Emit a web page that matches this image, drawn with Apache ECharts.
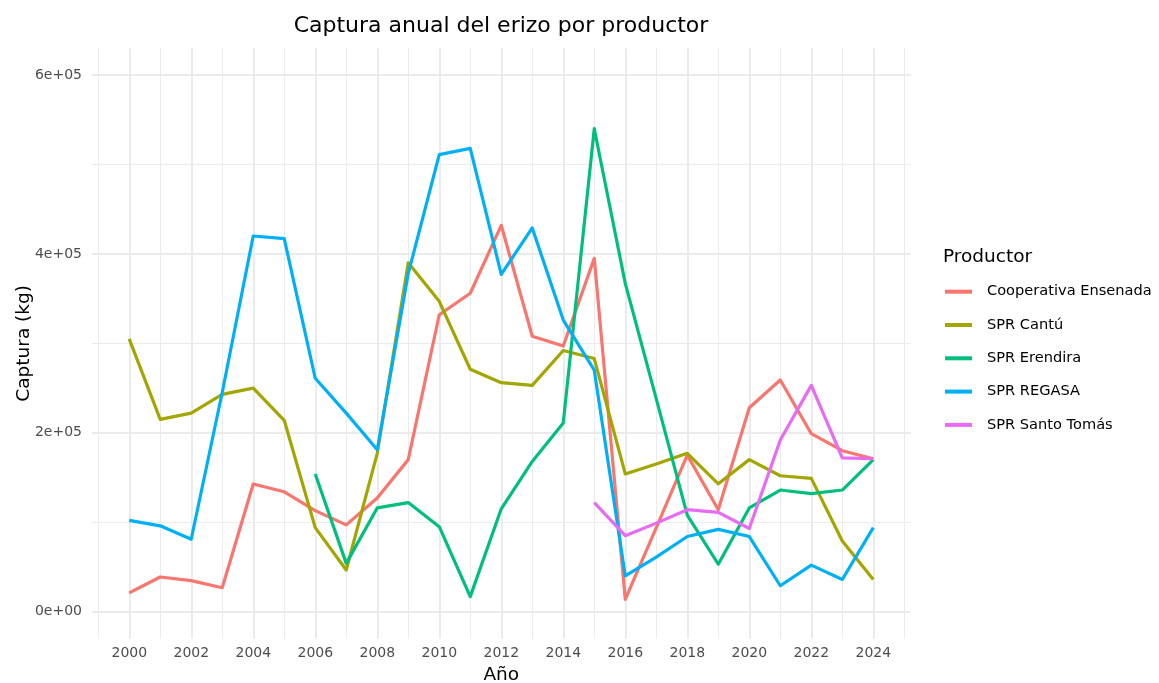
<!DOCTYPE html>
<html>
<head>
<meta charset="utf-8">
<script src="https://cdn.jsdelivr.net/npm/echarts@6.0.0/dist/echarts.min.js"></script>
<style>
html,body{margin:0;padding:0;background:#fff;}
#chart{width:1159px;height:683px;}
</style>
</head>
<body>
<div id="chart"></div>
<script>
// ---- data ----
const years = [2000,2001,2002,2003,2004,2005,2006,2007,2008,2009,2010,2011,2012,2013,2014,2015,2016,2017,2018,2019,2020,2021,2022,2023,2024];
const seriesNames = ['Cooperativa Ensenada','SPR Cantú','SPR Erendira','SPR REGASA','SPR Santo Tomás'];
const cooperativa = [21000,38800,34700,26800,142800,134000,113000,97000,127000,170000,332000,356000,432000,308000,297000,395000,13800,94000,175000,114000,228000,259000,199000,180000,171000];
const cantu = [305000,215000,222000,243000,250000,214000,94000,46600,177000,390000,347000,271000,256000,253000,292000,283000,154000,165000,177000,143000,170000,152000,149000,79000,36000];
const erendira = [null,null,null,null,null,null,154000,54000,116000,122000,95000,16800,115000,168000,211000,540000,367000,238000,108000,53000,116000,136000,132000,136000,170000];
const regasa = [102000,96000,81000,245000,420000,417000,261000,222000,181000,378000,511000,518000,377000,429000,326000,270000,40000,61000,84000,92000,84000,29000,52000,36000,94000];
const santoTomas = [null,null,null,null,null,null,null,null,null,null,null,null,null,null,null,122000,85000,99000,114000,111000,93000,192000,253000,172000,171000];
const xTickLabels = ['2000','2002','2004','2006','2008','2010','2012','2014','2016','2018','2020','2022','2024'];
const yTickLabels = ['0e+00','2e+05','4e+05','6e+05'];
const colors = ['#F8766D','#A3A500','#00BF7D','#00B0F6','#E76BF3'];

const FONT = '"DejaVu Sans", "Liberation Sans", Arial, sans-serif';
const GRID = '#EBEBEB';

function pairs(vals){
  const out = [];
  vals.forEach((v,i)=>{ if(v!==null) out.push([years[i], v]); });
  return out;
}
const allVals = [cooperativa, cantu, erendira, regasa, santoTomas];

const chart = echarts.init(document.getElementById('chart'), null, {renderer:'canvas'});

const hiddenAxis = (gi, extra) => Object.assign({
  gridIndex: gi, type:'value', show:false, min:0, max:1
}, extra||{});

const option = {
  animation: false,
  backgroundColor: '#ffffff',
  textStyle: {fontFamily: FONT},
  grid: [
    // 0: panel with data
    {left: 92, right: 248.5, top: 48.2, bottom: 44.5, outerBoundsMode: 'none', containLabel: false},
    // 1: x minor gridlines (1999..2025)
    {left: 98.3, right: 254.7, top: 48.2, bottom: 44.5, outerBoundsMode: 'none', containLabel: false},
    // 2: x major gridlines + labels (2000..2024)
    {left: 129.3, right: 285.7, top: 48.2, bottom: 44.5, outerBoundsMode: 'none', containLabel: false},
    // 3: y gridlines + labels (0..6e5)
    {left: 92, right: 248.5, top: 75, bottom: 71.3, outerBoundsMode: 'none', containLabel: false}
  ],
  xAxis: [
    {gridIndex:0, type:'value', min:1998.8, max:2025.2,
     axisLine:{show:false}, axisTick:{show:false}, axisLabel:{show:false}, splitLine:{show:false},
     name:'Año', nameLocation:'middle', nameGap:27,
     nameTextStyle:{fontFamily:FONT, fontSize:18.5, color:'#000'}},
    {gridIndex:1, type:'value', min:1999, max:2025, interval:1,
     axisLine:{show:false}, axisTick:{show:false}, axisLabel:{show:false},
     splitLine:{show:true, lineStyle:{color:GRID, width:1}}},
    {gridIndex:2, type:'value', min:2000, max:2024, interval:2,
     axisLine:{show:false}, axisTick:{show:false},
     axisLabel:{show:true, margin:8, color:'#4D4D4D', fontFamily:FONT, fontSize:14,
       formatter: v => xTickLabels[Math.round((v-2000)/2)] || ''},
     splitLine:{show:true, lineStyle:{color:GRID, width:2}}},
    hiddenAxis(3)
  ],
  yAxis: [
    {gridIndex:0, type:'value', min:-30000, max:630000,
     axisLine:{show:false}, axisTick:{show:false}, axisLabel:{show:false}, splitLine:{show:false},
     name:'Captura (kg)', nameLocation:'middle', nameGap:58,
     nameTextStyle:{fontFamily:FONT, fontSize:18.5, color:'#000'}},
    hiddenAxis(1),
    hiddenAxis(2),
    {gridIndex:3, type:'value', min:0, max:600000, interval:200000,
     axisLine:{show:false}, axisTick:{show:false},
     axisLabel:{show:true, margin:10, color:'#4D4D4D', fontFamily:FONT, fontSize:14,
       formatter: v => yTickLabels[Math.round(v/200000)] || ''},
     splitLine:{show:true, lineStyle:{color:GRID, width:2}},
     minorTick:{show:false, splitNumber:2},
     minorSplitLine:{show:true, lineStyle:{color:GRID, width:1}}}
  ],
  legend: {
    orient:'vertical', left:945, top:283.7, padding:0,
    itemWidth:27, itemHeight:4, itemGap:17.3, icon:'rect',
    data: seriesNames,
    textStyle:{fontFamily:FONT, fontSize:14.6, color:'#000', lineHeight:16, padding:[0,0,0,10]}
  },
  graphic: [
    {type:'text', x:501, y:26, silent:true,
     style:{text:'Captura anual del erizo por productor', x:0, y:0, fontFamily:FONT, fontSize:22, fill:'#000',
       align:'center', verticalAlign:'middle', textAlign:'center', textVerticalAlign:'middle'}},
    {type:'text', x:943, y:257, silent:true,
     style:{text:'Productor', x:0, y:0, fontFamily:FONT, fontSize:18.5, fill:'#000',
       align:'left', verticalAlign:'middle', textAlign:'left', textVerticalAlign:'middle'}}
  ],
  series: seriesNames.map((name, i) => ({
    name: name,
    type: 'line',
    xAxisIndex: 0, yAxisIndex: 0,
    data: pairs(allVals[i]),
    color: colors[i],
    symbol: 'none', showSymbol: false,
    lineStyle: {width: 3.2, color: colors[i], join: 'round', cap: 'butt'},
    emphasis: {disabled: true},
    z: 10 + i
  }))
};
chart.setOption(option);
</script>
</body>
</html>
